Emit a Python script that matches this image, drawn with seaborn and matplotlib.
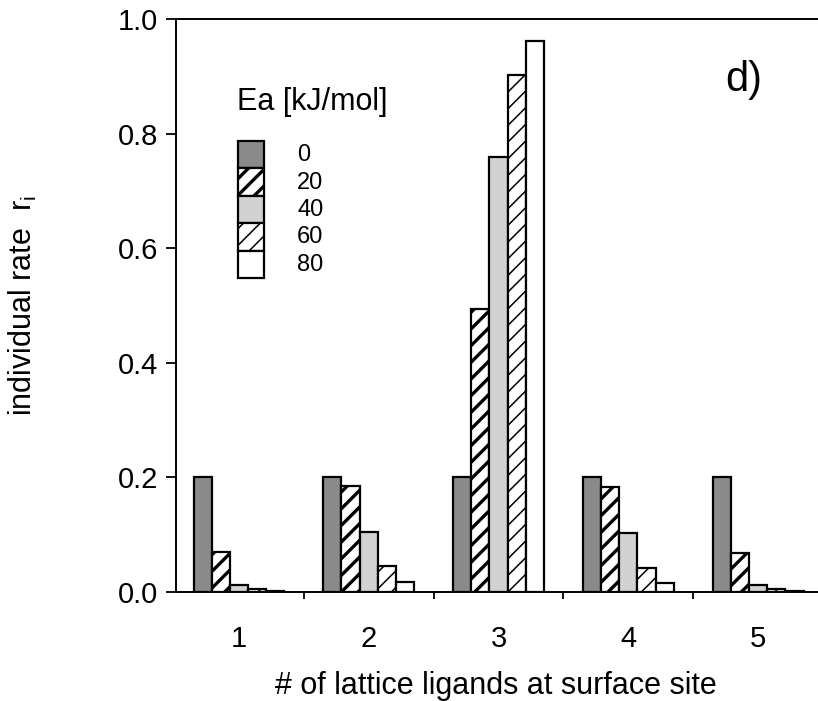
import numpy as np
import pandas as pd
import seaborn as sns
import matplotlib.pyplot as plt
from matplotlib.patches import Rectangle

# values (panel d)
ligands = ["1", "2", "3", "4", "5"]
ea_levels = ["0", "20", "40", "60", "80"]
rate_0 = [0.200, 0.200, 0.200, 0.200, 0.200]
rate_20 = [0.069, 0.185, 0.494, 0.184, 0.068]
rate_40 = [0.013, 0.105, 0.760, 0.103, 0.013]
rate_60 = [0.005, 0.045, 0.902, 0.042, 0.005]
rate_80 = [0.001, 0.018, 0.962, 0.016, 0.001]

rates = [rate_0, rate_20, rate_40, rate_60, rate_80]
rows = []
for ea, vals in zip(ea_levels, rates):
    for lig, v in zip(ligands, vals):
        rows.append({"ligands": lig, "Ea": ea, "rate": v})
df = pd.DataFrame(rows)

sns.set_style("ticks")
plt.rcParams["font.family"] = ["Liberation Sans", "DejaVu Sans"]
plt.rcParams["mathtext.fontset"] = "custom"
plt.rcParams["mathtext.rm"] = "Liberation Sans"
plt.rcParams["hatch.linewidth"] = 1.6
for key in ["text.color", "axes.labelcolor", "xtick.color", "ytick.color", "axes.edgecolor"]:
    plt.rcParams[key] = "black"

# bar styles per Ea level: facecolor, hatch, hatch linewidth
styles = [
    ("#8a8a8a", "", 1.0),
    ("white", "//", 2.4),
    ("#d2d2d2", "", 1.0),
    ("white", "//", 1.1),
    ("white", "", 1.0),
]

fig = plt.figure(figsize=(8.18, 7.01), dpi=100)
ax = fig.add_axes([176 / 818, 109 / 701, 647 / 818, 573 / 701])

sns.barplot(data=df, x="ligands", y="rate", hue="Ea", order=ligands,
            hue_order=ea_levels, width=0.7, legend=False, ax=ax)

for cont, (fc, hatch, hlw) in zip(ax.containers, styles):
    for bar in cont:
        bar.set_facecolor(fc)
        bar.set_edgecolor("black")
        bar.set_linewidth(1.6)
        bar.set_hatch(hatch)
        if hasattr(bar, "set_hatch_linewidth"):
            bar.set_hatch_linewidth(hlw)

ax.set_xlim(-0.485, 4.5)
ax.set_ylim(0, 1.0)
ax.set_yticks([0.0, 0.2, 0.4, 0.6, 0.8, 1.0])
ax.set_yticklabels(["0.0", "0.2", "0.4", "0.6", "0.8", "1.0"])
ax.tick_params(axis="y", direction="out", length=7, width=1.3, pad=6, labelsize=21)
ax.set_xticks(range(5))
ax.set_xticklabels(ligands)
ax.tick_params(axis="x", which="major", length=0, pad=24, labelsize=21)
ax.set_xticks([0.5, 1.5, 2.5, 3.5], minor=True)
ax.tick_params(axis="x", which="minor", direction="out", length=5, width=1.3)

for side in ["left", "bottom", "top"]:
    ax.spines[side].set_visible(True)
    ax.spines[side].set_linewidth(1.4)
ax.spines["right"].set_visible(False)

ax.set_xlabel("# of lattice ligands at surface site", fontsize=22)
ax.xaxis.set_label_coords(0.495, -0.138)
ax.set_ylabel("individual rate  r$_{\\mathregular{i}}$", fontsize=22)
ax.yaxis.set_label_coords(-0.212, 0.5)

# legend drawn as a stacked column of swatches like the original
fig.text(237 / 818, 1 - 110 / 701, "Ea [kJ/mol]", fontsize=22)
sw_h = 27.4
for i, (lab, (fc, hatch, hlw)) in enumerate(zip(ea_levels, styles)):
    top = 141 + i * sw_h
    r = Rectangle((238 / 818, 1 - (top + sw_h) / 701), 26 / 818, sw_h / 701,
                  transform=fig.transFigure, facecolor=fc, edgecolor="black",
                  hatch=hatch, linewidth=1.6)
    if hasattr(r, "set_hatch_linewidth"):
        r.set_hatch_linewidth(hlw)
    fig.patches.append(r)
    fig.text(297 / 818, 1 - (top + sw_h / 2 - 2) / 701, lab, fontsize=17,
             va="center_baseline")

fig.text(725 / 818, 1 - 91 / 701, "d)", fontsize=30)

fig.savefig("out.png", dpi=100)
